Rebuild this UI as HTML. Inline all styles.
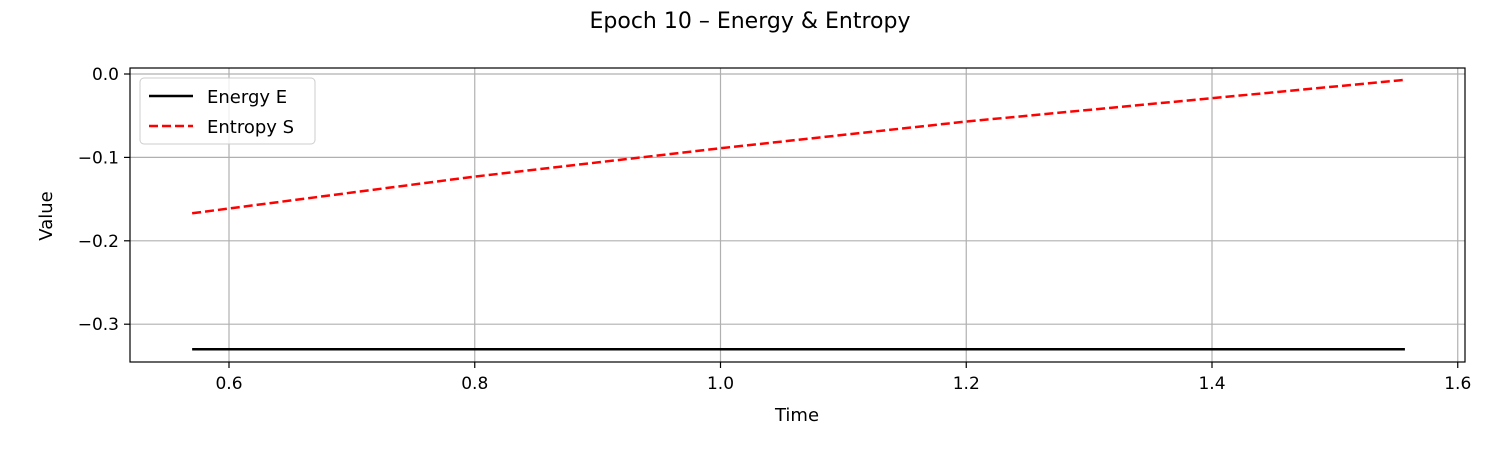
<!DOCTYPE html>
<html><head><meta charset="utf-8"><style>
body{margin:0;background:#fff;}
svg text{font-family:"DejaVu Sans","Liberation Sans",sans-serif;}
</style></head><body>
<svg id="chart" width="1500" height="450" xmlns="http://www.w3.org/2000/svg">
<rect width="1500" height="450" fill="#fff"/>
<text x="750" y="28" text-anchor="middle" font-size="22">Epoch 10 – Energy &amp; Entropy</text>
<g id="grid"></g>
<g id="series"></g>
<rect x="130" y="68" width="1335" height="294" fill="none" stroke="#000" stroke-width="1.2"/>
<g id="axes"></g>
<text x="797" y="421" text-anchor="middle" font-size="18">Time</text>
<text x="52" y="216" text-anchor="middle" font-size="18" transform="rotate(-90 52 216)">Value</text>
<g>
<rect x="140" y="78" width="175" height="66" rx="4" fill="#fff" fill-opacity="0.8" stroke="#ccc"/>
<line x1="149" y1="96" x2="193" y2="96" stroke="#000" stroke-width="2.5"/>
<text x="207" y="103" font-size="18">Energy E</text>
<line x1="149" y1="126" x2="193" y2="126" stroke="#f00" stroke-width="2.5" stroke-dasharray="9,4"/>
<text x="207" y="133" font-size="18">Entropy S</text>
</g>
</svg>
<script>
const xTicks=[0.6,0.8,1.0,1.2,1.4,1.6];
const xTickLabels=["0.6","0.8","1.0","1.2","1.4","1.6"];
const yTicks=[0.0,-0.1,-0.2,-0.3];
const yTickLabels=["0.0","−0.1","−0.2","−0.3"];
const energyT=[0.57,1.557];
const energyV=[-0.330,-0.330];
const entropyT=[0.57,0.8,1.0,1.2,1.4,1.557];
const entropyV=[-0.167,-0.123,-0.089,-0.057,-0.029,-0.007];
const NS="http://www.w3.org/2000/svg";
function xs(t){return 229+(t-0.6)/0.2*245.75;}
function ys(v){return 74+(0-v)/0.1*83.4;}
function mk(tag,attrs,parent){const e=document.createElementNS(NS,tag);for(const k in attrs)e.setAttribute(k,attrs[k]);parent.appendChild(e);return e;}
const grid=document.getElementById('grid'),axes=document.getElementById('axes'),ser=document.getElementById('series');
xTicks.forEach((t,i)=>{const x=xs(t);
const g=mk('line',{x1:x,x2:x,y1:68,y2:362,stroke:'#b0b0b0','stroke-width':1.2},grid);


mk('line',{x1:x,x2:x,y1:362,y2:368,stroke:'#000','stroke-width':1.2},axes);
const tx=mk('text',{x:x,y:389,'text-anchor':'middle','font-size':17},axes);tx.textContent=xTickLabels[i];

});
yTicks.forEach((v,i)=>{const y=ys(v);
const g=mk('line',{x1:130,x2:1465,y1:y,y2:y,stroke:'#b0b0b0','stroke-width':1.2},grid);


mk('line',{x1:124,x2:130,y1:y,y2:y,stroke:'#000','stroke-width':1.2},axes);
const tx=mk('text',{x:119,y:y+6,'text-anchor':'end','font-size':17},axes);tx.textContent=yTickLabels[i];

});
function pts(T,V){return T.map((t,i)=>xs(t)+','+ys(V[i])).join(' ');}
const e=mk('polyline',{points:pts(energyT,energyV),fill:'none',stroke:'#000','stroke-width':2.5},ser);


const s=mk('polyline',{points:pts(entropyT,entropyV),fill:'none',stroke:'#f00','stroke-width':2.5,'stroke-dasharray':'9,4'},ser);


</script>
</body></html>
